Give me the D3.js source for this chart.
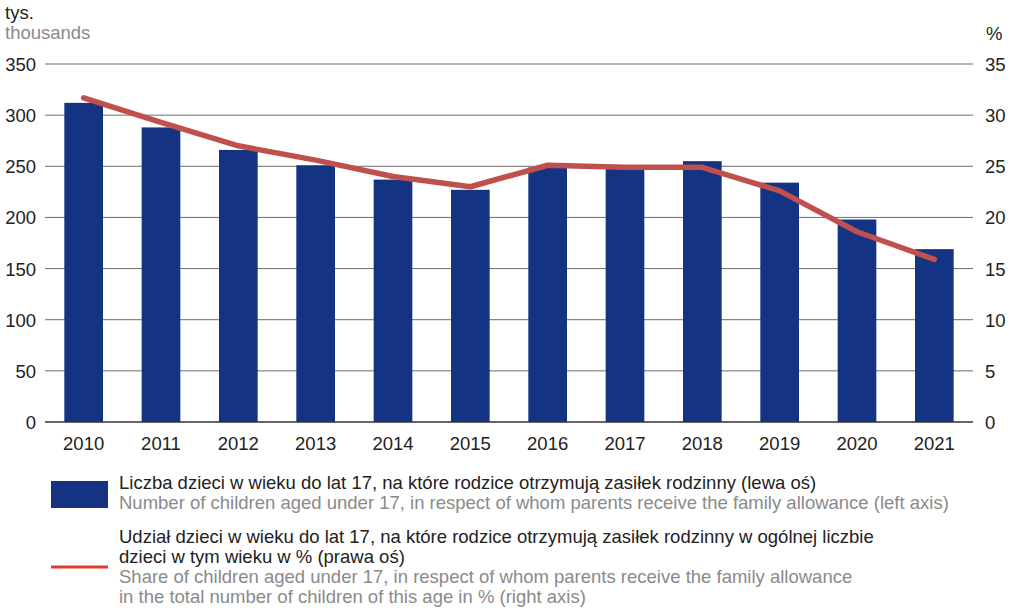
<!DOCTYPE html>
<html><head><meta charset="utf-8">
<script src="https://cdn.jsdelivr.net/npm/d3@7"></script>
<style>body{margin:0;background:#fff}text{font-family:"Liberation Sans",Arial,sans-serif}</style>
</head><body><svg id="c" width="1015" height="608"></svg>
<script>
const years = ["2010","2011","2012","2013","2014","2015","2016","2017","2018","2019","2020","2021"];
const children = [312,288,266,251,237,227,249,248,255,234,198,169];
const share = [31.7,29.3,27.0,25.6,24.0,23.0,25.1,24.9,24.9,22.6,18.6,15.9];
const leftTicks = [0,50,100,150,200,250,300,350];
const rightTicks = [0,5,10,15,20,25,30,35];

const svg = d3.select("#c");
const L = 45, R = 973, T = 64, B = 422;
const x = d3.scaleBand().domain(years).range([L,R]).paddingInner(0.5).paddingOuter(0.25);
const y = d3.scaleLinear().domain([0,350]).range([B,T]);
const y2 = d3.scaleLinear().domain([0,35]).range([B,T]);

// grid
svg.append("g").selectAll("line").data(leftTicks.filter(d=>d>0)).join("line")
  .attr("x1",L).attr("x2",R).attr("y1",d=>y(d)).attr("y2",d=>y(d))
  .attr("stroke","#6d6d6d").attr("stroke-width",1);

// bars
svg.append("g").selectAll("rect").data(children).join("rect")
  .attr("x",(d,i)=>x(years[i])).attr("width",x.bandwidth())
  .attr("y",d=>y(d)).attr("height",d=>B-y(d)).attr("fill","#153383");

// baseline
svg.append("line").attr("x1",L).attr("x2",R).attr("y1",B).attr("y2",B).attr("stroke","#333").attr("stroke-width",1.5);

// line
const line = d3.line().x((d,i)=>x(years[i])+x.bandwidth()/2).y(d=>y2(d));
svg.append("path").datum(share).attr("d",line).attr("fill","none")
  .attr("stroke","#c0504d").attr("stroke-width",5.5).attr("stroke-linecap","round").attr("stroke-linejoin","round");

// axes labels
const fs = 18.5;
svg.append("g").selectAll("text").data(leftTicks).join("text")
  .attr("x",36).attr("y",d=>y(d)+7).attr("text-anchor","end").attr("font-size",fs).attr("fill","#222").text(d=>d);
svg.append("g").selectAll("text").data(rightTicks).join("text")
  .attr("x",985).attr("y",d=>y2(d)+7).attr("text-anchor","start").attr("font-size",fs).attr("fill","#222").text(d=>d);
svg.append("g").selectAll("text").data(years).join("text")
  .attr("x",d=>x(d)+x.bandwidth()/2).attr("y",450).attr("text-anchor","middle").attr("font-size",fs).attr("fill","#222").text(d=>d);

svg.append("text").attr("x",5).attr("y",19).attr("font-size",fs).attr("fill","#222").text("tys.");
svg.append("text").attr("x",5).attr("y",38.5).attr("font-size",fs).attr("fill","#8a8a8a").text("thousands");
svg.append("text").attr("x",986).attr("y",40).attr("font-size",fs).attr("fill","#222").text("%");

// legend
svg.append("rect").attr("x",51).attr("y",481).attr("width",57).attr("height",27).attr("fill","#153383");
svg.append("rect").attr("x",51).attr("y",565.5).attr("width",57).attr("height",3).attr("fill","#e8382b");
const leg = [
  ["Liczba dzieci w wieku do lat 17, na które rodzice otrzymują zasiłek rodzinny (lewa oś)",489,"#222"],
  ["Number of children aged under 17, in respect of whom parents receive the family allowance (left axis)",509,"#8a8a8a"],
  ["Udział dzieci w wieku do lat 17, na które rodzice otrzymują zasiłek rodzinny w ogólnej liczbie",543,"#222"],
  ["dzieci w tym wieku w % (prawa oś)",563,"#222"],
  ["Share of children aged under 17, in respect of whom parents receive the family allowance",583,"#8a8a8a"],
  ["in the total number of children of this age in % (right axis)",603,"#8a8a8a"]
];
svg.append("g").selectAll("text").data(leg).join("text")
  .attr("x",119).attr("y",d=>d[1]).attr("font-size",fs).attr("fill",d=>d[2]).text(d=>d[0]);
</script></body></html>
